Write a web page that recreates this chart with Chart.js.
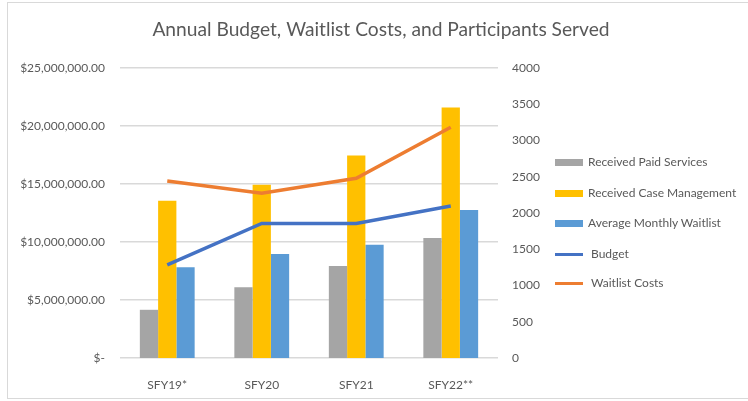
<!DOCTYPE html>
<html>
<head>
<meta charset="utf-8">
<script src="https://cdn.jsdelivr.net/npm/chart.js@4/dist/chart.umd.min.js"></script>
<style>
  html, body { margin: 0; padding: 0; background: #fff; }
  #wrap { position: relative; width: 748px; height: 401px; overflow: hidden; }
  #frame { position: absolute; left: 7px; top: 2px; width: 800px; height: 397px; border: 1px solid #d9d9d9; box-sizing: border-box; }
  #chartBox { position: absolute; left: 0; top: 0; width: 748px; height: 401px; }
  #legend { position: absolute; left: 555px; top: 0; font-family: Lato, sans-serif; font-size: 12px; color: #595959; }
  .item { position: absolute; white-space: nowrap; height: 14px; line-height: 14px; }
  .sw { position: absolute; left: 0; width: 28px; }
  .txt { position: absolute; }
</style>
</head>
<body>
<div id="wrap">
  <div id="frame"></div>
  <div id="chartBox"><canvas id="budgetChart" width="748" height="401"></canvas></div>
  <div id="legend"></div>
</div>
<script>
// categories
const years = ["SFY19*", "SFY20", "SFY21", "SFY22**"];

// participants (right axis)
const paidServices   = [665, 977, 1270, 1656];
const caseManagement = [2169, 2390, 2794, 3455];
const avgWaitlist    = [1253, 1436, 1564, 2041];

// dollars (left axis)
const budget        = [8030000, 11600000, 11600000, 13100000];
const waitlistCosts = [15260000, 14200000, 15500000, 19900000];

const chartTitle = "Annual Budget, Waitlist Costs, and Participants Served";

const txtColor = "#595959";
const gridColor = "#d9d9d9";

function money(v) {
  if (v === 0) return "$-";
  return "$" + v.toLocaleString("en-US", { minimumFractionDigits: 2, maximumFractionDigits: 2 });
}

const datasets = [
  { type: "line", label: "Budget", data: budget, yAxisID: "yL", borderColor: "#4472C4", backgroundColor: "#4472C4", borderWidth: 3.5, pointRadius: 0, tension: 0, order: 0 },
  { type: "line", label: "Waitlist Costs", data: waitlistCosts, yAxisID: "yL", borderColor: "#ED7D31", backgroundColor: "#ED7D31", borderWidth: 3.5, pointRadius: 0, tension: 0, order: 0 },
  { type: "bar", label: "Received Paid Services", data: paidServices, yAxisID: "yR", backgroundColor: "#A5A5A5", order: 1 },
  { type: "bar", label: "Received Case Management", data: caseManagement, yAxisID: "yR", backgroundColor: "#FFC000", order: 1 },
  { type: "bar", label: "Average Monthly Waitlist", data: avgWaitlist, yAxisID: "yR", backgroundColor: "#5B9BD5", order: 1 }
];

const ctx = document.getElementById("budgetChart").getContext("2d");
const chart = new Chart(ctx, {
  data: { labels: years, datasets: datasets },
  options: {
    responsive: false,
    animation: false,
    layout: { padding: { left: 14, right: 0, top: 0, bottom: 0 } },
    datasets: { bar: { barPercentage: 1, categoryPercentage: 0.58 } },
    plugins: {
      legend: { display: false },
      tooltip: { enabled: false },
      title: {
        display: true,
        text: chartTitle,
        color: txtColor,
        font: { family: "Lato", size: 19.2, weight: "normal" },
        padding: { top: 18, bottom: 27 }
      }
    },
    scales: {
      x: {
        grid: { display: false },
        border: { display: false },
        ticks: { color: txtColor, font: { family: "Lato", size: 12 }, padding: 12 },
        afterFit: s => { s.height = 43; }
      },
      yL: {
        position: "left",
        min: 0, max: 25000000,
        ticks: { stepSize: 5000000, color: txtColor, font: { family: "Lato", size: 12 }, padding: 15, callback: v => money(v) },
        grid: { color: gridColor, drawTicks: false, lineWidth: 1.5 },
        border: { display: false },
        afterFit: s => { s.width = 106; }
      },
      yR: {
        position: "right",
        min: 0, max: 4000,
        ticks: { stepSize: 500, color: txtColor, font: { family: "Lato", size: 12 }, padding: 14, callback: v => String(v) },
        grid: { display: false, drawTicks: false },
        border: { display: false },
        afterFit: s => { s.width = 250; }
      }
    }
  }
});

// legend, bars first then lines as in the original
const legendOrder = [2, 3, 4, 0, 1];
const legendY = [162, 193, 223, 254, 283];
const legendEl = document.getElementById("legend");
legendOrder.forEach((idx, i) => {
  const ds = datasets[idx];
  const item = document.createElement("div");
  item.className = "item";
  item.style.top = (legendY[i] - 7) + "px";
  const sw = document.createElement("div");
  sw.className = "sw";
  const isLine = ds.type === "line";
  sw.style.height = isLine ? "3px" : "7px";
  sw.style.top = isLine ? "6px" : "4px";
  sw.style.background = ds.backgroundColor;
  const t = document.createElement("div");
  t.className = "txt";
  t.style.left = isLine ? "36px" : "33px";
  t.textContent = ds.label;
  item.appendChild(sw);
  item.appendChild(t);
  legendEl.appendChild(item);
});
</script>
</body>
</html>
